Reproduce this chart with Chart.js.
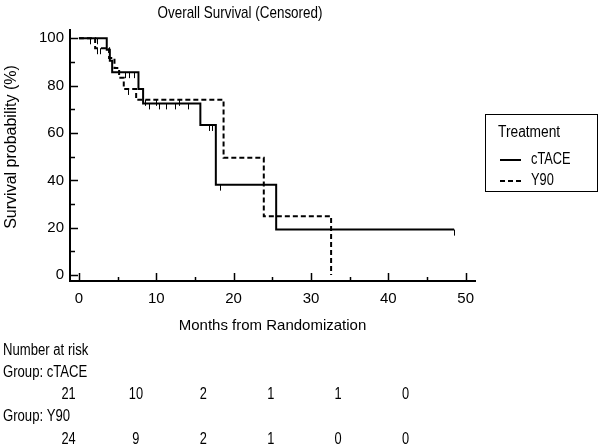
<!DOCTYPE html>
<html>
<head>
<meta charset="utf-8">
<script src="https://cdn.jsdelivr.net/npm/chart.js@4/dist/chart.umd.min.js"></script>
<style>
  html, body { margin: 0; padding: 0; background: #fff; }
  #wrap { width: 600px; height: 447px; }
</style>
</head>
<body>
<div id="wrap"><canvas id="km" width="600" height="447"></canvas></div>
<script>
// Kaplan-Meier steps (months, survival %)
const cTACE_t = [0, 3.6, 4.0, 4.3, 7.7, 8.3, 15.7, 17.7, 25.5, 48.5];
const cTACE_s = [100, 95.2, 90.5, 85.7, 78.6, 72.5, 63.4, 38.2, 19.2, 19.2];
const cTACE_cens = [1.4, 2.4, 5.9, 6.5, 7.1, 9.1, 10.4, 11.3, 12.4, 14.1, 16.8, 17.2, 18.3, 48.5];

const y90_t = [0, 2.1, 3.9, 4.6, 5.2, 5.8, 7.4, 18.7, 23.9, 32.6];
const y90_s = [100, 95.8, 91.7, 87.5, 83.3, 78.6, 74.0, 49.5, 24.8, 0];
const y90_cens = [2.3, 2.7, 6.3, 8.6, 10.0, 13.0];

const groups = ["cTACE", "Y90"];
const xTicks = [0, 10, 20, 30, 40, 50];
const xMinor = [5, 15, 25, 35, 45];
const yTicks = [0, 20, 40, 60, 80, 100];
const yMinor = [10, 30, 50, 70, 90];

// number at risk table
const riskCTACE = [21, 10, 2, 1, 1, 0];
const riskY90 = [24, 9, 2, 1, 0, 0];

const REG = "'Liberation Sans', Arial, sans-serif";

function toPoints(t, s) {
    let pts = [];
    for (let i = 0; i < t.length; i++) {
        pts.push({x: t[i], y: s[i]});
    }
    return pts
}

// value of a step curve at time x
function stepAt(t, s, x) {
    let v = s[0];
    for (let i = 0; i < t.length; i++) {
        if (t[i] <= x) v = s[i];
    }
    return v
}

// the reference uses a condensed face, squeeze the text a bit
function narrowText(ctx, text, x, y, sx) {
    ctx.save();
    ctx.translate(x, y);
    ctx.scale(sx, 1);
    ctx.fillText(text, 0, 0);
    ctx.restore();
}

const kmExtras = {
    id: "kmExtras",
    afterDraw(chart) {
        const ctx = chart.ctx;
        const xs = chart.scales.x, ys = chart.scales.y;
        const area = chart.chartArea;
        ctx.save();
        ctx.strokeStyle = "#000";

        // inward tick marks
        ctx.lineWidth = 1.5;
        ctx.beginPath();
        yTicks.forEach(v => { let p = Math.round(ys.getPixelForValue(v)) + 0.5; ctx.moveTo(area.left, p); ctx.lineTo(area.left + 8, p); });
        yMinor.forEach(v => { let p = Math.round(ys.getPixelForValue(v)) + 0.5; ctx.moveTo(area.left, p); ctx.lineTo(area.left + 5, p); });
        xTicks.forEach(v => { let p = Math.round(xs.getPixelForValue(v)) + 0.5; ctx.moveTo(p, area.bottom); ctx.lineTo(p, area.bottom - 8); });
        xMinor.forEach(v => { let p = Math.round(xs.getPixelForValue(v)) + 0.5; ctx.moveTo(p, area.bottom); ctx.lineTo(p, area.bottom - 4); });
        ctx.stroke();

        // censoring marks hanging under the curves
        ctx.lineWidth = 1;
        ctx.beginPath();
        cTACE_cens.forEach(c => {
            let px = Math.round(xs.getPixelForValue(c)) + 0.5;
            let py = ys.getPixelForValue(stepAt(cTACE_t, cTACE_s, c));
            ctx.moveTo(px, py); ctx.lineTo(px, py + 6);
        });
        y90_cens.forEach(c => {
            let px = Math.round(xs.getPixelForValue(c)) + 0.5;
            let py = ys.getPixelForValue(stepAt(y90_t, y90_s, c));
            ctx.moveTo(px, py); ctx.lineTo(px, py + 6);
        });
        ctx.stroke();

        ctx.fillStyle = "#000";
        ctx.textBaseline = "middle";

        // y axis title
        ctx.save();
        ctx.translate(11.5, 147);
        ctx.rotate(-Math.PI / 2);
        ctx.textAlign = "center";
        ctx.font = "16px " + REG;
        ctx.fillText("Survival probability (%)", 0, 0);
        ctx.restore();

        // title
        ctx.font = "17px " + REG;
        ctx.textAlign = "center";
        narrowText(ctx, "Overall Survival (Censored)", 240, 13, 0.79);

        // legend box
        ctx.font = "16px " + REG;
        ctx.lineWidth = 1;
        ctx.strokeRect(485.5, 114.5, 112, 77);
        ctx.textAlign = "left";
        narrowText(ctx, "Treatment", 498, 133, 0.86);
        chart.data.datasets.forEach((ds, i) => {
            let ly = 160 + i * 21;
            ctx.lineWidth = 2;
            ctx.setLineDash(ds.borderDash || []);
            ctx.beginPath();
            ctx.moveTo(500, ly); ctx.lineTo(521, ly);
            ctx.stroke();
            ctx.setLineDash([]);
            narrowText(ctx, ds.label, 531, ly, 0.8);
        });

        // number at risk
        narrowText(ctx, "Number at risk", 3, 351, 0.82);
        narrowText(ctx, "Group: " + groups[0], 3, 373, 0.82);
        narrowText(ctx, "Group: " + groups[1], 3, 417, 0.82);
        ctx.textAlign = "center";
        riskCTACE.forEach((n, i) => narrowText(ctx, String(n), 68.5 + i * 67.4, 395, 0.8));
        riskY90.forEach((n, i) => narrowText(ctx, String(n), 68.5 + i * 67.4, 440, 0.8));
        ctx.restore();
    }
};

Chart.defaults.font.family = REG;
Chart.defaults.color = "#000";

let ctx_km = document.getElementById("km").getContext("2d");
let km = new Chart(ctx_km, {
    type: "line",
    data: {
        datasets: [{
            label: groups[0],
            data: toPoints(cTACE_t, cTACE_s),
            borderColor: "#000",
            borderWidth: 2,
            stepped: "before",
            pointRadius: 0,
            fill: false,
            clip: false
        }, {
            label: groups[1],
            data: toPoints(y90_t, y90_s),
            borderColor: "#000",
            borderWidth: 2,
            borderDash: [5, 3],
            stepped: "before",
            pointRadius: 0,
            fill: false,
            clip: false
        }]
    },
    options: {
        responsive: false,
        animation: false,
        layout: {
            padding: {left: 0, right: 125, top: 30, bottom: 106}
        },
        scales: {
            x: {
                type: "linear",
                min: -1.15,
                max: 51.2,
                afterBuildTicks: (s) => { s.ticks = xTicks.map(v => ({value: v})); },
                afterFit: (s) => { s.height = 60; },
                grid: {display: true, drawOnChartArea: false, drawTicks: false},
                border: {display: true, color: "#000", width: 2},
                ticks: {padding: 9, font: {size: 15}, color: "#000"},
                title: {
                    display: true,
                    text: "Months from Randomization",
                    font: {size: 15},
                    padding: {top: 0, bottom: 6}
                }
            },
            y: {
                min: -2.5,
                max: 103.5,
                afterBuildTicks: (s) => { s.ticks = yTicks.map(v => ({value: v})); },
                afterFit: (s) => { s.width = 70; },
                grid: {display: true, drawOnChartArea: false, drawTicks: false},
                border: {display: true, color: "#000", width: 2},
                ticks: {padding: 6, font: {size: 15}, color: "#000"},
                title: {display: false}
            }
        },
        plugins: {
            legend: {display: false},
            tooltip: {enabled: false}
        }
    },
    plugins: [kmExtras]
});
</script>
</body>
</html>
